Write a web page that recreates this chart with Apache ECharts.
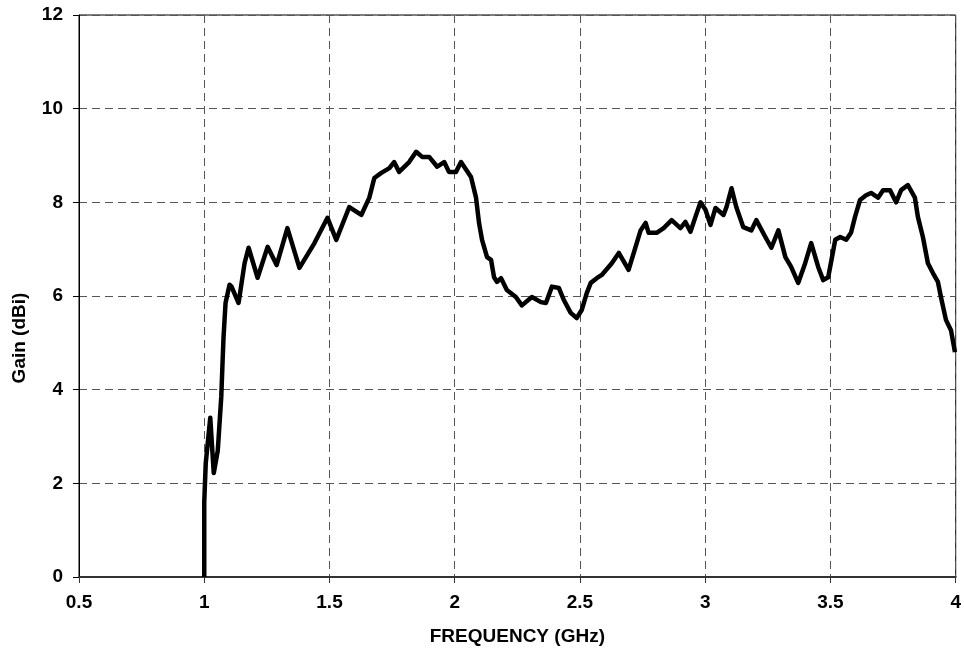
<!DOCTYPE html>
<html>
<head>
<meta charset="utf-8">
<script src="https://cdn.jsdelivr.net/npm/echarts@6/dist/echarts.min.js"></script>
<style>
  html, body { margin: 0; padding: 0; background: #fff; }
  #main { width: 964px; height: 655px; }
</style>
</head>
<body>
<div id="main"></div>
<script>
  // frequency (GHz)
  let freqGHz = [
    1.000, 1.000, 1.006, 1.024, 1.038, 1.054, 1.068, 1.073, 1.077, 1.085,
    1.101, 1.109, 1.137, 1.161, 1.177, 1.213, 1.253, 1.289, 1.332, 1.380,
    1.440, 1.492, 1.527, 1.579, 1.627, 1.659, 1.679, 1.707, 1.739, 1.758,
    1.778, 1.818, 1.846, 1.870, 1.898, 1.930, 1.958, 1.977, 2.005, 2.025,
    2.065, 2.085, 2.097, 2.109, 2.129, 2.145, 2.157, 2.169, 2.185, 2.208,
    2.244, 2.268, 2.308, 2.344, 2.364, 2.388, 2.416, 2.435, 2.463, 2.487,
    2.507, 2.527, 2.543, 2.567, 2.587, 2.627, 2.655, 2.694, 2.722, 2.742,
    2.762, 2.774, 2.806, 2.834, 2.866, 2.901, 2.921, 2.941, 2.961, 2.981,
    3.001, 3.021, 3.041, 3.073, 3.085, 3.105, 3.124, 3.152, 3.184, 3.204,
    3.240, 3.264, 3.292, 3.320, 3.343, 3.371, 3.399, 3.423, 3.451, 3.471,
    3.491, 3.519, 3.539, 3.563, 3.582, 3.598, 3.618, 3.642, 3.662, 3.690,
    3.710, 3.738, 3.762, 3.782, 3.809, 3.837, 3.849, 3.869, 3.889, 3.909,
    3.929, 3.941, 3.961, 3.981, 3.997,
  ];
  // gain (dBi)
  let gainDbi = [
    0, 1.6, 2.43, 3.4, 2.22, 2.7, 3.85, 4.57, 5.12, 5.85,
    6.24, 6.2, 5.85, 6.7, 7.03, 6.39, 7.05, 6.66, 7.45, 6.6,
    7.13, 7.67, 7.2, 7.9, 7.73, 8.1, 8.52, 8.63, 8.73, 8.86,
    8.65, 8.86, 9.08, 8.97, 8.97, 8.76, 8.86, 8.65, 8.65, 8.86,
    8.54, 8.1, 7.56, 7.2, 6.83, 6.77, 6.4, 6.3, 6.38, 6.13,
    5.98, 5.8, 5.98, 5.87, 5.85, 6.2, 6.17, 5.92, 5.64, 5.53,
    5.7, 6.06, 6.28, 6.38, 6.45, 6.7, 6.92, 6.56, 7.05, 7.4,
    7.56, 7.35, 7.35, 7.45, 7.62, 7.45, 7.58, 7.37, 7.69, 8.0,
    7.84, 7.52, 7.88, 7.73, 7.9, 8.3, 7.9, 7.47, 7.4, 7.62,
    7.26, 7.03, 7.4, 6.83, 6.62, 6.28, 6.7, 7.13, 6.62, 6.34,
    6.4, 7.2, 7.26, 7.2, 7.35, 7.69, 8.05, 8.15, 8.2, 8.1,
    8.26, 8.26, 8.0, 8.26, 8.37, 8.1, 7.69, 7.26, 6.7, 6.49,
    6.3, 5.98, 5.49, 5.27, 4.8,
  ];
  let xTitle = 'FREQUENCY (GHz)';
  let yTitle = 'Gain (dBi)';

  let font = '"Liberation Sans", Arial, sans-serif';
  let myChart = echarts.init(document.getElementById('main'));

  let gridLine = { show: true, lineStyle: { color: '#555', type: [8, 5], width: 1 } };
  let textStyle = { fontFamily: font, fontWeight: 'bold', fontSize: 19, color: '#000' };

  let option = {
    animation: false,
    grid: {
      left: 79, right: 6, top: 15, bottom: 78,
      show: true, borderColor: '#000', borderWidth: 1,
    },
    xAxis: {
      type: 'value',
      min: 0.5, max: 4, interval: 0.5,
      name: xTitle,
      nameLocation: 'middle',
      nameGap: 50,
      nameTextStyle: textStyle,
      axisLine: { show: true, onZero: false, lineStyle: { color: '#333', width: 2 } },
      axisTick: { show: true, length: 6, lineStyle: { color: '#333' } },
      axisLabel: Object.assign({ margin: 16 }, textStyle),
      splitLine: gridLine,
    },
    yAxis: {
      type: 'value',
      min: 0, max: 12, interval: 2,
      name: yTitle,
      nameLocation: 'middle',
      nameGap: 50,
      // the title sits a little below the plot's middle
      nameTextStyle: Object.assign({ padding: [0, 84, 0, 0] }, textStyle),
      axisLine: { show: true, onZero: false, lineStyle: { color: '#000', width: 1 } },
      axisTick: { show: true, length: 6, lineStyle: { color: '#000' } },
      axisLabel: Object.assign({ margin: 16 }, textStyle),
      splitLine: gridLine,
    },
    series: [
      {
        type: 'line',
        data: freqGHz.map((f, i) => [f, gainDbi[i]]),
        showSymbol: false,
        lineStyle: { color: '#000', width: 4.5, join: 'round' },
      },
    ],
  };

  myChart.setOption(option);
</script>
</body>
</html>
